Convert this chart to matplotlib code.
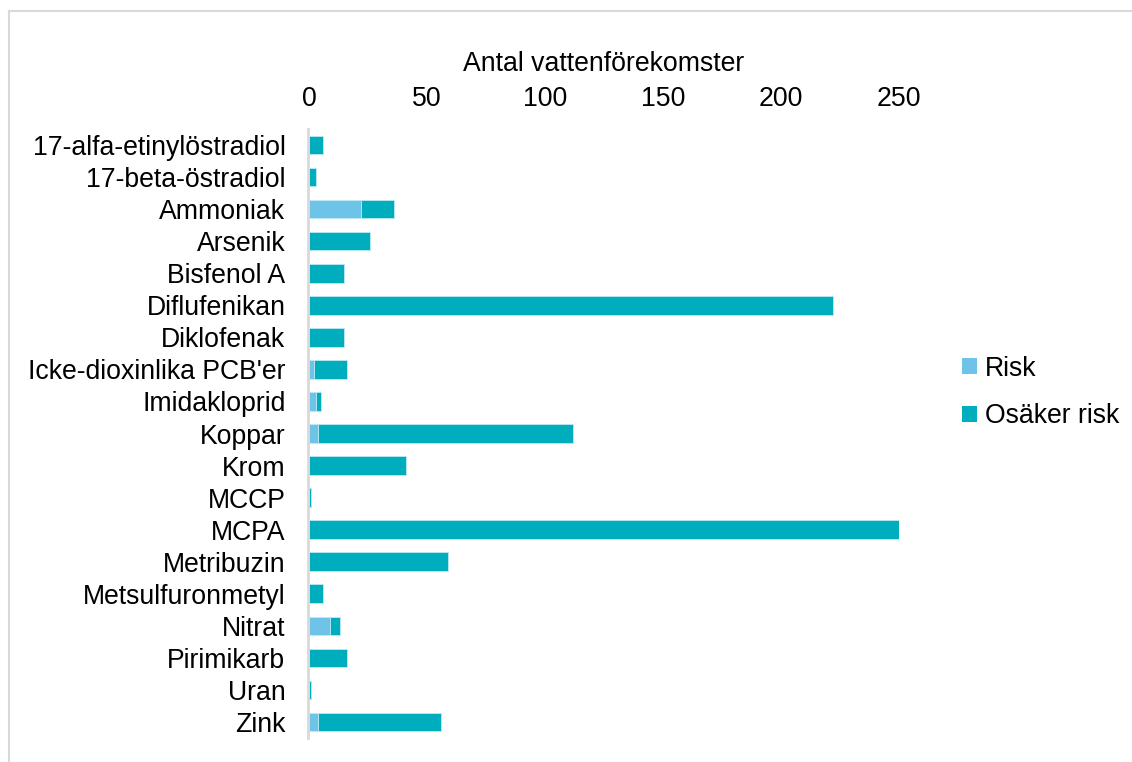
import numpy as np
import matplotlib.pyplot as plt
from matplotlib.lines import Line2D
from matplotlib.patches import Patch

plt.rcParams['font.family'] = ['Liberation Sans', 'DejaVu Sans']

# data
amnen = ['17-alfa-etinylöstradiol', '17-beta-östradiol', 'Ammoniak', 'Arsenik',
         'Bisfenol A', 'Diflufenikan', 'Diklofenak', "Icke-dioxinlika PCB'er",
         'Imidakloprid', 'Koppar', 'Krom', 'MCCP', 'MCPA', 'Metribuzin',
         'Metsulfuronmetyl', 'Nitrat', 'Pirimikarb', 'Uran', 'Zink']
risk = [0, 0, 22, 0, 0, 0, 0, 2, 3, 4, 0, 0, 0, 0, 0, 9, 0, 0, 4]
osaker = [6, 3, 14, 26, 15, 222, 15, 14, 2, 108, 41, 1, 250, 59, 6, 4, 16, 1, 52]

c_risk = '#6EC4E8'
c_osaker = '#00ADBC'
fs = 19.2

fig = plt.figure(figsize=(11.32, 7.62), dpi=100)
ax = fig.add_axes([309/1132, 1 - 738/762, 590/1132, 609/762])

y = np.arange(len(amnen))
risk = np.array(risk)
osaker = np.array(osaker)
ax.barh(y, risk, height=0.58, color=c_risk, edgecolor='#BDEAF2', linewidth=0.6)
ax.barh(y, osaker, left=risk, height=0.58, color=c_osaker, edgecolor='#BDEAF2', linewidth=0.6)

ax.set_ylim(len(amnen) - 0.5, -0.5)
ax.set_xlim(0, 250)
ax.set_yticks(y)
ax.set_yticklabels(amnen)
ax.xaxis.tick_top()
ax.xaxis.set_label_position('top')
ax.set_xticks([0, 50, 100, 150, 200, 250])
ax.tick_params(axis='x', length=0, labelsize=fs, pad=12.5)
ax.tick_params(axis='y', length=0, labelsize=fs, pad=16)
ax.set_xlabel('Antal vattenförekomster', fontsize=fs, labelpad=10.5)

for s in ['top', 'right', 'bottom']:
    ax.spines[s].set_visible(False)
ax.spines['left'].set_color('#D9D9D9')
ax.spines['left'].set_linewidth(2)
ax.spines['left'].set_position(('outward', 1))

# legend
handles = [Patch(facecolor=c_risk, label='Risk'), Patch(facecolor=c_osaker, label='Osäker risk')]
fig.legend(handles=handles, loc='center left', bbox_to_anchor=(0.829, 0.485),
           frameon=False, fontsize=fs, handlelength=0.55, handleheight=0.55,
           handletextpad=0.3, labelspacing=0.8)

# outer frame
fig.add_artist(Line2D([9/1132, 1], [1 - 11/762, 1 - 11/762], color='#D9D9D9', lw=1.5,
                      transform=fig.transFigure))
fig.add_artist(Line2D([9/1132, 9/1132], [0, 1 - 11/762], color='#D9D9D9', lw=1.5,
                      transform=fig.transFigure))

fig.savefig('out.png', dpi=100)
